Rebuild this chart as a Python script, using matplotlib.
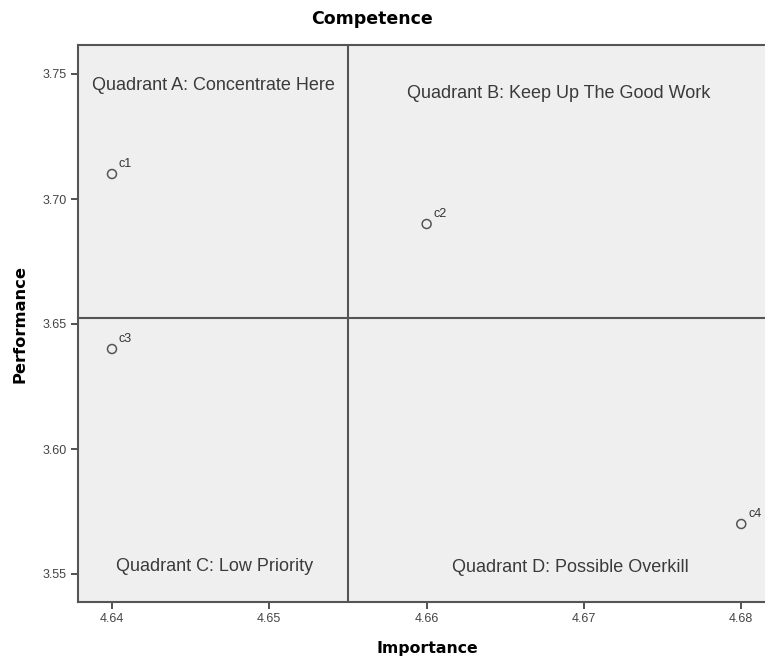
import matplotlib
matplotlib.use('Agg')
import matplotlib.pyplot as plt

plt.rcParams['font.family'] = ['Liberation Sans', 'DejaVu Sans']

# data
labels = ['c1', 'c2', 'c3', 'c4']
importance = [4.64, 4.66, 4.64, 4.68]
performance = [3.71, 3.69, 3.64, 3.57]
xticks = [4.64, 4.65, 4.66, 4.67, 4.68]
yticks = [3.55, 3.60, 3.65, 3.70, 3.75]
quadrants = ['Quadrant A: Concentrate Here', 'Quadrant B: Keep Up The Good Work',
             'Quadrant C: Low Priority', 'Quadrant D: Possible Overkill']

x_mean = sum(importance) / len(importance)
y_mean = sum(performance) / len(performance)

fig = plt.figure(figsize=(7.65, 6.6), dpi=100)
fig.patch.set_facecolor('white')
ax = fig.add_axes([78 / 765, 58 / 660, 690 / 765, 557 / 660])
ax.set_facecolor('#EFEFEF')

ax.set_xlim(4.63784, 4.68170)
ax.set_ylim(3.5388, 3.7616)

# quadrant dividers at the means
ax.axvline(x_mean, color='#555555', lw=1.5, zorder=1)
ax.axhline(y_mean, color='#555555', lw=1.5, zorder=1)

ax.scatter(importance, performance, s=42, facecolors='none',
           edgecolors='#555555', linewidths=1.1, zorder=3)
for lab, xv, yv in zip(labels, importance, performance):
    ax.annotate(lab, (xv, yv), xytext=(5, 5), textcoords='offset points',
                fontsize=9, color='#333333')

# quadrant captions
qcol = '#3a3a3a'
qfs = 13
ax.text(4.64642, 3.7456, quadrants[0], ha='center', va='center', fontsize=qfs, color=qcol)
ax.text(4.66842, 3.7424, quadrants[1], ha='center', va='center', fontsize=qfs, color=qcol)
ax.text(4.64655, 3.5530, quadrants[2], ha='center', va='center', fontsize=qfs, color=qcol)
ax.text(4.66912, 3.5524, quadrants[3], ha='center', va='center', fontsize=qfs, color=qcol)

ax.set_xticks(xticks)
ax.set_xticklabels([f'{v:.2f}' for v in xticks])
ax.set_yticks(yticks)
ax.set_yticklabels([f'{v:.2f}' for v in yticks])
ax.tick_params(direction='out', length=5, width=1.3, color='#444444',
               labelsize=9, labelcolor='#444444', pad=3)

for sp in ax.spines.values():
    sp.set_color('#555555')
    sp.set_linewidth(1.5)

fig.text(372 / 765, 1 - 19 / 660, 'Competence', ha='center', va='center',
         fontsize=12.5, fontweight='bold', family='DejaVu Sans')
fig.text(427 / 765, 1 - 649 / 660, 'Importance', ha='center', va='center',
         fontsize=11.3, fontweight='bold', family='DejaVu Sans')
fig.text(20 / 765, 1 - 324 / 660, 'Performance', ha='center', va='center',
         rotation=90, fontsize=11.7, fontweight='bold', family='DejaVu Sans')

fig.savefig('out.png', dpi=100, facecolor='white')
